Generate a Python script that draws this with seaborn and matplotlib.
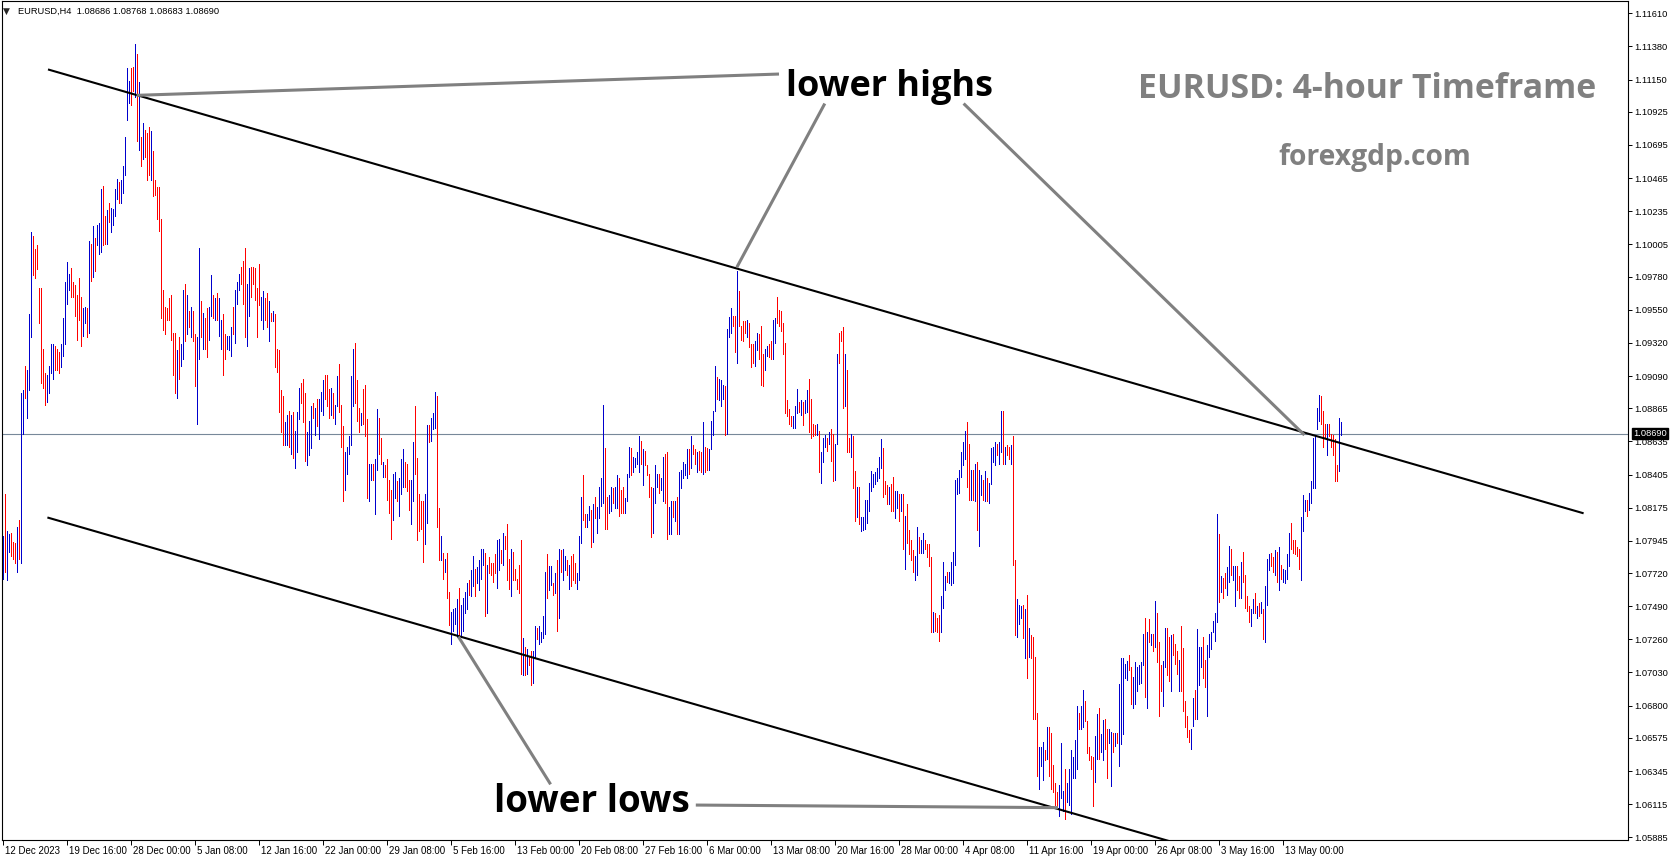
import numpy as np
import pandas as pd
import matplotlib
matplotlib.use("Agg")
import matplotlib.pyplot as plt
import matplotlib.transforms as mtransforms
import seaborn as sns

# ---------------- data (EURUSD H4 bars) ----------------
# 12 Dec 2023 - 12 Jan 2024
high_1 = [1.0798, 1.0827, 1.0801, 1.0799, 1.0800, 1.0794, 1.0793, 1.0804, 1.0809, 1.0897,
          1.0899, 1.0916, 1.0913, 1.0952, 1.1009, 1.1006, 1.0997, 1.1000, 1.0970, 1.0970,
          1.0928, 1.0911, 1.0910, 1.0916, 1.0931, 1.0931, 1.0930, 1.0928, 1.0926, 1.0931,
          1.0949, 1.0974, 1.0988, 1.0980, 1.0984, 1.0974, 1.0972, 1.0965, 1.0977, 1.0964,
          1.0956, 1.0957, 1.0956, 1.1003, 1.1001, 1.1013, 1.1005, 1.1014, 1.1015, 1.1039,
          1.1041, 1.1020, 1.1024, 1.1029, 1.1026, 1.1025, 1.1039, 1.1046, 1.1044, 1.1045,
          1.1055, 1.1075, 1.1123, 1.1114, 1.1123, 1.1124, 1.1140, 1.1133, 1.1113, 1.1075,
          1.1085, 1.1080, 1.1078, 1.1082, 1.1079, 1.1065, 1.1045, 1.1040, 1.1040, 1.1018,
          1.0969, 1.0957, 1.0956, 1.0963, 1.0965, 1.0939, 1.0939, 1.0927, 1.0936, 1.0931,
          1.0969, 1.0973, 1.0965, 1.0954, 1.0957, 1.0954, 1.0938, 1.0936, 1.0998, 1.0961,
          1.0953, 1.0949, 1.0956, 1.0957, 1.0979, 1.0965, 1.0963, 1.0967, 1.0963, 1.0948,
          1.0952, 1.0938, 1.0937, 1.0937, 1.0943, 1.0957, 1.0969, 1.0974, 1.0980, 1.0985,
          1.0989, 1.0998, 1.0973, 1.0984, 1.0985, 1.0985, 1.0984, 1.0970, 1.0987, 1.0964,
          1.0968, 1.0963, 1.0967, 1.0961, 1.0953, 1.0954, 1.0952, 1.0928, 1.0927, 1.0899,
          1.0895, 1.0877, 1.0882, 1.0885]
low_1 = [1.0768, 1.0773, 1.0767, 1.0787, 1.0784, 1.0782, 1.0779, 1.0773, 1.0782, 1.0779,
         1.0869, 1.0894, 1.0880, 1.0899, 1.0936, 1.0979, 1.0977, 1.0983, 1.0946, 1.0904,
         1.0901, 1.0889, 1.0891, 1.0897, 1.0911, 1.0907, 1.0913, 1.0913, 1.0911, 1.0915,
         1.0923, 1.0931, 1.0959, 1.0969, 1.0964, 1.0964, 1.0951, 1.0934, 1.0948, 1.0930,
         1.0937, 1.0946, 1.0936, 1.0939, 1.0975, 1.0978, 1.0982, 1.1000, 1.0994, 1.0995,
         1.1000, 1.1001, 1.1001, 1.1016, 1.1009, 1.1014, 1.1020, 1.1032, 1.1029, 1.1029,
         1.1036, 1.1049, 1.1087, 1.1099, 1.1097, 1.1107, 1.1103, 1.1072, 1.1066, 1.1055,
         1.1060, 1.1061, 1.1045, 1.1049, 1.1045, 1.1034, 1.1035, 1.1018, 1.1010, 1.0949,
         1.0941, 1.0938, 1.0948, 1.0948, 1.0934, 1.0910, 1.0897, 1.0894, 1.0907, 1.0916,
         1.0921, 1.0933, 1.0938, 1.0943, 1.0936, 1.0933, 1.0902, 1.0876, 1.0921, 1.0936,
         1.0928, 1.0928, 1.0922, 1.0934, 1.0951, 1.0949, 1.0948, 1.0948, 1.0937, 1.0928,
         1.0910, 1.0921, 1.0928, 1.0927, 1.0923, 1.0938, 1.0932, 1.0959, 1.0969, 1.0973,
         1.0959, 1.0936, 1.0930, 1.0951, 1.0964, 1.0973, 1.0962, 1.0936, 1.0958, 1.0948,
         1.0942, 1.0948, 1.0943, 1.0933, 1.0947, 1.0947, 1.0915, 1.0912, 1.0884, 1.0870,
         1.0861, 1.0861, 1.0861, 1.0860]
dir_1 = ("uduudddudu" "uduuuddddd" "dduuuudddu" "uuuudddddd" "uudududuuu"
         "dduduuuudu" "uuuuddudud" "uddduddddd" "dddddddudu" "udududduud"
         "udduududuu" "dduuuduuud" "dduudddddu" "uddududddd" "duud")

# 12 Jan - 6 Feb 2024
high_2 = [1.0882, 1.0884, 1.0871, 1.0884, 1.0901, 1.0904, 1.0907, 1.0897, 1.0870, 1.0878,
          1.0888, 1.0890, 1.0887, 1.0893, 1.0893, 1.0898, 1.0906, 1.0910, 1.0910, 1.0900,
          1.0901, 1.0897, 1.0889, 1.0909, 1.0917, 1.0889, 1.0874, 1.0856, 1.0860, 1.0867,
          1.0909, 1.0928, 1.0932, 1.0906, 1.0887, 1.0883, 1.0900, 1.0903, 1.0879, 1.0848,
          1.0848, 1.0848, 1.0851, 1.0886, 1.0880, 1.0866, 1.0849, 1.0847, 1.0851, 1.0837,
          1.0830, 1.0841, 1.0842, 1.0836, 1.0838, 1.0851, 1.0858, 1.0849, 1.0848, 1.0837,
          1.0837, 1.0863, 1.0888, 1.0852, 1.0827, 1.0822, 1.0822, 1.0827, 1.0875, 1.0875,
          1.0880, 1.0883, 1.0898, 1.0895, 1.0817, 1.0798, 1.0786, 1.0782, 1.0786, 1.0759,
          1.0745, 1.0747, 1.0748, 1.0754, 1.0762, 1.0750, 1.0755, 1.0759, 1.0765, 1.0767,
          1.0774, 1.0784, 1.0775, 1.0776, 1.0781, 1.0789, 1.0789, 1.0786, 1.0778, 1.0783,
          1.0779, 1.0779, 1.0785, 1.0795, 1.0796, 1.0788, 1.0800, 1.0798, 1.0806, 1.0782,
          1.0789, 1.0787, 1.0775, 1.0768, 1.0778, 1.0795, 1.0727, 1.0721, 1.0719, 1.0714,
          1.0718, 1.0718, 1.0735, 1.0734, 1.0735, 1.0731, 1.0742, 1.0773, 1.0785, 1.0777,
          1.0777, 1.0765, 1.0772, 1.0781, 1.0789, 1.0788, 1.0789, 1.0784, 1.0781, 1.0778,
          1.0784, 1.0785, 1.0779, 1.0772, 1.0798]
low_2 = [1.0855, 1.0852, 1.0845, 1.0856, 1.0879, 1.0890, 1.0877, 1.0850, 1.0847, 1.0854,
         1.0859, 1.0880, 1.0868, 1.0874, 1.0865, 1.0885, 1.0882, 1.0893, 1.0888, 1.0880,
         1.0882, 1.0880, 1.0876, 1.0888, 1.0884, 1.0860, 1.0822, 1.0830, 1.0841, 1.0855,
         1.0861, 1.0888, 1.0890, 1.0878, 1.0870, 1.0875, 1.0876, 1.0867, 1.0824, 1.0822,
         1.0837, 1.0837, 1.0813, 1.0844, 1.0855, 1.0848, 1.0839, 1.0839, 1.0823, 1.0814,
         1.0796, 1.0809, 1.0824, 1.0822, 1.0812, 1.0827, 1.0832, 1.0832, 1.0829, 1.0816,
         1.0806, 1.0822, 1.0841, 1.0795, 1.0801, 1.0803, 1.0780, 1.0792, 1.0807, 1.0863,
         1.0864, 1.0872, 1.0873, 1.0804, 1.0781, 1.0781, 1.0768, 1.0773, 1.0755, 1.0736,
         1.0723, 1.0732, 1.0737, 1.0728, 1.0727, 1.0729, 1.0732, 1.0744, 1.0747, 1.0757,
         1.0756, 1.0763, 1.0756, 1.0765, 1.0760, 1.0768, 1.0778, 1.0742, 1.0744, 1.0772,
         1.0771, 1.0766, 1.0772, 1.0762, 1.0774, 1.0779, 1.0778, 1.0789, 1.0767, 1.0761,
         1.0756, 1.0767, 1.0767, 1.0761, 1.0758, 1.0702, 1.0701, 1.0701, 1.0702, 1.0708,
         1.0694, 1.0696, 1.0713, 1.0726, 1.0723, 1.0724, 1.0727, 1.0730, 1.0755, 1.0760,
         1.0764, 1.0757, 1.0758, 1.0732, 1.0741, 1.0773, 1.0767, 1.0774, 1.0771, 1.0761,
         1.0763, 1.0767, 1.0765, 1.0761, 1.0767]
dir_2 = ("uduuuddduu" "ududuuuddd" "uduuddduuu" "uudddudddu" "uduudduddd"
         "duuduuuddd" "uuddddduud" "uuuddududd" "uuuuduuuud" "uuduuuudud"
         "ddduududdd" "udddddudud" "duuduuuudu" "udududuudu" "ddduu")

# 6 Feb - 14 Mar 2024
high_3 = [1.0825, 1.0840, 1.0813, 1.0813, 1.0819, 1.0816, 1.0820, 1.0825, 1.0818, 1.0832,
          1.0838, 1.0889, 1.0859, 1.0825, 1.0826, 1.0832, 1.0831, 1.0832, 1.0840, 1.0838,
          1.0830, 1.0832, 1.0824, 1.0841, 1.0860, 1.0859, 1.0853, 1.0852, 1.0856, 1.0867,
          1.0864, 1.0858, 1.0857, 1.0847, 1.0841, 1.0832, 1.0831, 1.0847, 1.0841, 1.0841,
          1.0838, 1.0853, 1.0855, 1.0856, 1.0818, 1.0822, 1.0822, 1.0822, 1.0825, 1.0842,
          1.0844, 1.0849, 1.0848, 1.0858, 1.0858, 1.0867, 1.0861, 1.0858, 1.0856, 1.0857,
          1.0856, 1.0877, 1.0860, 1.0859, 1.0858, 1.0878, 1.0885, 1.0916, 1.0908, 1.0907,
          1.0906, 1.0903, 1.0902, 1.0942, 1.0950, 1.0956, 1.0951, 1.0951, 1.0982, 1.0968,
          1.0944, 1.0947, 1.0947, 1.0948, 1.0946, 1.0931, 1.0931, 1.0933, 1.0939, 1.0938,
          1.0944, 1.0924, 1.0928, 1.0930, 1.0931, 1.0933, 1.0948, 1.0949, 1.0964, 1.0955,
          1.0954, 1.0946, 1.0932, 1.0892, 1.0886, 1.0881, 1.0881, 1.0888, 1.0900, 1.0891,
          1.0892, 1.0891, 1.0892, 1.0899, 1.0907, 1.0893, 1.0876, 1.0875, 1.0876, 1.0871,
          1.0856, 1.0866, 1.0868, 1.0866, 1.0870, 1.0872, 1.0869, 1.0862, 1.0924, 1.0939,
          1.0940, 1.0943, 1.0924, 1.0913, 1.0866, 1.0869, 1.0867, 1.0843, 1.0832, 1.0832]
low_3 = [1.0793, 1.0809, 1.0804, 1.0804, 1.0809, 1.0790, 1.0794, 1.0810, 1.0800, 1.0810,
         1.0819, 1.0821, 1.0803, 1.0803, 1.0814, 1.0815, 1.0821, 1.0817, 1.0817, 1.0812,
         1.0814, 1.0814, 1.0814, 1.0822, 1.0839, 1.0840, 1.0842, 1.0846, 1.0848, 1.0842,
         1.0848, 1.0833, 1.0847, 1.0840, 1.0825, 1.0797, 1.0800, 1.0821, 1.0832, 1.0828,
         1.0830, 1.0822, 1.0821, 1.0796, 1.0799, 1.0799, 1.0811, 1.0808, 1.0799, 1.0799,
         1.0831, 1.0838, 1.0840, 1.0838, 1.0841, 1.0845, 1.0855, 1.0848, 1.0842, 1.0844,
         1.0842, 1.0841, 1.0842, 1.0844, 1.0844, 1.0858, 1.0868, 1.0885, 1.0893, 1.0892,
         1.0888, 1.0893, 1.0868, 1.0869, 1.0936, 1.0939, 1.0944, 1.0926, 1.0918, 1.0944,
         1.0934, 1.0933, 1.0939, 1.0936, 1.0929, 1.0915, 1.0918, 1.0916, 1.0927, 1.0921,
         1.0903, 1.0902, 1.0913, 1.0923, 1.0922, 1.0921, 1.0921, 1.0932, 1.0946, 1.0944,
         1.0940, 1.0924, 1.0883, 1.0881, 1.0876, 1.0874, 1.0873, 1.0873, 1.0883, 1.0884,
         1.0882, 1.0875, 1.0883, 1.0884, 1.0870, 1.0866, 1.0867, 1.0868, 1.0868, 1.0842,
         1.0835, 1.0849, 1.0860, 1.0857, 1.0862, 1.0850, 1.0836, 1.0837, 1.0862, 1.0918,
         1.0933, 1.0887, 1.0888, 1.0856, 1.0856, 1.0853, 1.0831, 1.0808, 1.0811, 1.0806]
dir_3 = ("udduududuu" "uudduuduud" "dduuuduuuu" "dudddduuud" "uudduududu"
         "uuuududdud" "dudduuuudu" "uuduuuddud" "ddduddduud" "dduudduudd"
         "dddddduuud" "uduuddddud" "uuududduud" "ddudduddud")

# 14 Mar - 19 Apr 2024
high_4 = [1.0811, 1.0811, 1.0823, 1.0823, 1.0835, 1.0843, 1.0841, 1.0842, 1.0845, 1.0853,
          1.0865, 1.0859, 1.0836, 1.0833, 1.0832, 1.0834, 1.0839, 1.0829, 1.0829, 1.0827,
          1.0827, 1.0827, 1.0812, 1.0820, 1.0802, 1.0795, 1.0788, 1.0784, 1.0804, 1.0797,
          1.0795, 1.0800, 1.0795, 1.0792, 1.0792, 1.0783, 1.0745, 1.0744, 1.0741, 1.0743,
          1.0756, 1.0780, 1.0770, 1.0773, 1.0773, 1.0780, 1.0787, 1.0837, 1.0838, 1.0844,
          1.0856, 1.0863, 1.0871, 1.0877, 1.0862, 1.0844, 1.0844, 1.0848, 1.0849, 1.0844,
          1.0840, 1.0837, 1.0843, 1.0838, 1.0835, 1.0859, 1.0860, 1.0863, 1.0862, 1.0863,
          1.0885, 1.0885, 1.0860, 1.0861, 1.0860, 1.0861, 1.0867, 1.0781, 1.0754, 1.0750,
          1.0749, 1.0750, 1.0747, 1.0757, 1.0734, 1.0729, 1.0728, 1.0714, 1.0675, 1.0651,
          1.0651, 1.0655, 1.0649, 1.0665, 1.0665, 1.0661, 1.0639, 1.0626, 1.0620, 1.0625,
          1.0654, 1.0621, 1.0636, 1.0626, 1.0636, 1.0649, 1.0644, 1.0656, 1.0680, 1.0675,
          1.0680, 1.0691, 1.0683, 1.0669, 1.0651, 1.0645, 1.0644, 1.0659, 1.0674, 1.0678,
          1.0660, 1.0670, 1.0671, 1.0664, 1.0664, 1.0662, 1.0661, 1.0661, 1.0661, 1.0695,
          1.0713, 1.0713, 1.0709, 1.0711, 1.0715, 1.0707, 1.0700, 1.0710, 1.0707, 1.0708,
          1.0710, 1.0730, 1.0741, 1.0731, 1.0740]
low_4 = [1.0801, 1.0802, 1.0803, 1.0807, 1.0815, 1.0829, 1.0832, 1.0834, 1.0836, 1.0838,
         1.0845, 1.0825, 1.0827, 1.0820, 1.0820, 1.0815, 1.0815, 1.0810, 1.0817, 1.0808,
         1.0815, 1.0789, 1.0775, 1.0793, 1.0785, 1.0781, 1.0773, 1.0767, 1.0771, 1.0786,
         1.0786, 1.0786, 1.0789, 1.0783, 1.0777, 1.0731, 1.0731, 1.0732, 1.0731, 1.0725,
         1.0731, 1.0748, 1.0760, 1.0766, 1.0765, 1.0764, 1.0765, 1.0778, 1.0827, 1.0828,
         1.0839, 1.0847, 1.0851, 1.0832, 1.0823, 1.0823, 1.0823, 1.0822, 1.0802, 1.0791,
         1.0826, 1.0823, 1.0822, 1.0822, 1.0821, 1.0834, 1.0849, 1.0847, 1.0854, 1.0848,
         1.0856, 1.0848, 1.0848, 1.0854, 1.0851, 1.0848, 1.0778, 1.0729, 1.0728, 1.0737,
         1.0741, 1.0727, 1.0713, 1.0699, 1.0714, 1.0713, 1.0671, 1.0671, 1.0631, 1.0622,
         1.0638, 1.0628, 1.0642, 1.0643, 1.0631, 1.0622, 1.0620, 1.0611, 1.0609, 1.0603,
         1.0616, 1.0607, 1.0601, 1.0613, 1.0611, 1.0605, 1.0630, 1.0630, 1.0636, 1.0664,
         1.0664, 1.0665, 1.0669, 1.0647, 1.0642, 1.0636, 1.0610, 1.0627, 1.0643, 1.0643,
         1.0648, 1.0642, 1.0650, 1.0630, 1.0654, 1.0624, 1.0648, 1.0652, 1.0654, 1.0638,
         1.0653, 1.0660, 1.0699, 1.0698, 1.0705, 1.0681, 1.0678, 1.0681, 1.0690, 1.0695,
         1.0696, 1.0708, 1.0686, 1.0678, 1.0724]
dir_4 = ("uuuuuuuuuu" "udddudduud" "ududddduud" "uudddduddd" "uuuduuuuuu"
         "uuuddududu" "ududuuuudu" "ududdudduu" "udududdddu" "uududddddu"
         "uuduuuuuud" "uuddddduud" "uudduududu" "uuuudduuuu" "uudud")

# 19 Apr - 17 May 2024
high_5 = [1.0730, 1.0730, 1.0753, 1.0744, 1.0724, 1.0708, 1.0711, 1.0734, 1.0734, 1.0728,
          1.0729, 1.0730, 1.0723, 1.0718, 1.0712, 1.0735, 1.0720, 1.0683, 1.0673, 1.0663,
          1.0664, 1.0685, 1.0691, 1.0733, 1.0721, 1.0721, 1.0728, 1.0712, 1.0722, 1.0730,
          1.0731, 1.0739, 1.0744, 1.0813, 1.0799, 1.0770, 1.0769, 1.0772, 1.0776, 1.0791,
          1.0789, 1.0777, 1.0777, 1.0777, 1.0770, 1.0780, 1.0787, 1.0771, 1.0756, 1.0749,
          1.0747, 1.0754, 1.0758, 1.0749, 1.0751, 1.0752, 1.0747, 1.0763, 1.0782, 1.0785,
          1.0786, 1.0783, 1.0788, 1.0787, 1.0790, 1.0778, 1.0775, 1.0774, 1.0785, 1.0800,
          1.0807, 1.0795, 1.0795, 1.0790, 1.0789, 1.0811, 1.0826, 1.0823, 1.0823, 1.0828,
          1.0836, 1.0866, 1.0868, 1.0887, 1.0896, 1.0895, 1.0885, 1.0876, 1.0876, 1.0876,
          1.0869, 1.0868, 1.0865, 1.0847, 1.0880, 1.08768]
low_5 = [1.0722, 1.0718, 1.0721, 1.0710, 1.0673, 1.0690, 1.0680, 1.0707, 1.0701, 1.0697,
         1.0690, 1.0715, 1.0709, 1.0702, 1.0690, 1.0690, 1.0676, 1.0665, 1.0658, 1.0655,
         1.0650, 1.0666, 1.0671, 1.0671, 1.0694, 1.0707, 1.0699, 1.0693, 1.0673, 1.0714,
         1.0719, 1.0731, 1.0725, 1.0738, 1.0752, 1.0759, 1.0755, 1.0762, 1.0757, 1.0766,
         1.0771, 1.0767, 1.0749, 1.0760, 1.0755, 1.0755, 1.0766, 1.0748, 1.0746, 1.0738,
         1.0735, 1.0744, 1.0744, 1.0741, 1.0742, 1.0744, 1.0726, 1.0724, 1.0750, 1.0774,
         1.0777, 1.0773, 1.0771, 1.0766, 1.0760, 1.0768, 1.0766, 1.0765, 1.0768, 1.0777,
         1.0789, 1.0786, 1.0785, 1.0784, 1.0775, 1.0767, 1.0801, 1.0815, 1.0812, 1.0816,
         1.0821, 1.0831, 1.0831, 1.0872, 1.0878, 1.0876, 1.0860, 1.0866, 1.0854, 1.0867,
         1.0860, 1.0854, 1.0836, 1.0836, 1.0843, 1.08683]
dir_5 = ("ududdduudd" "uddduddddd" "uuduuudduu" "uuuududduu" "duuddudddd"
         "uudududuuu" "ddududuuuu" "ddddduuudu" "uuuuudddud" "dddduu")

# last bar OHLC shown in the header, and last price line
last_open, last_high, last_low, last_close = 1.08686, 1.08768, 1.08683, 1.08690

# time axis labels (every 32 H4 bars)
x_tick_bars = [0, 32, 64, 96, 128, 160, 192, 224, 256, 288, 320,
               352, 384, 416, 448, 480, 512, 544, 576, 608, 640]
x_tick_labels = ["12 Dec 2023", "19 Dec 16:00", "28 Dec 00:00", "5 Jan 08:00",
                 "12 Jan 16:00", "22 Jan 00:00", "29 Jan 08:00", "5 Feb 16:00",
                 "13 Feb 00:00", "20 Feb 08:00", "27 Feb 16:00", "6 Mar 00:00",
                 "13 Mar 08:00", "20 Mar 16:00", "28 Mar 00:00", "4 Apr 08:00",
                 "11 Apr 16:00", "19 Apr 00:00", "26 Apr 08:00", "3 May 16:00",
                 "13 May 00:00"]
y_ticks = [1.11610, 1.11380, 1.11150, 1.10925, 1.10695, 1.10465, 1.10235, 1.10005,
           1.09780, 1.09550, 1.09320, 1.09090, 1.08865, 1.08635, 1.08405, 1.08175,
           1.07945, 1.07720, 1.07490, 1.07260, 1.07030, 1.06800, 1.06575, 1.06345,
           1.06115, 1.05885]

# drawn trend lines (bar index, price)
channel_top = [(22.5, 1.11220), (790.3, 1.08136)]
channel_bottom = [(22.2, 1.08107), (585.0, 1.05851)]
pointer_lines = [
    [(66.8, 1.11040), (388.0, 1.11188)],
    [(366.9, 1.09845), (410.9, 1.10983)],
    [(480.3, 1.10983), (650.7, 1.08680)],
    [(227.7, 1.07279), (273.8, 1.06253)],
    [(346.4, 1.06109), (527.5, 1.06091)],
]

# ---------------- build frame ----------------
highs = high_1 + high_2 + high_3 + high_4 + high_5
lows = low_1 + low_2 + low_3 + low_4 + low_5
dirs = dir_1 + dir_2 + dir_3 + dir_4 + dir_5
n = min(len(highs), len(lows), len(dirs))
bar_idx = np.arange(n)
df = pd.DataFrame({
    "bar": np.repeat(bar_idx, 2),
    "price": np.column_stack([lows[:n], highs[:n]]).ravel(),
    "dir": np.repeat(list(dirs[:n]), 2),
})

# ---------------- figure ----------------
sns.set_theme(style="white")
plt.rcParams["font.family"] = ["Liberation Sans", "DejaVu Sans"]

W, H = 1673, 861
fig = plt.figure(figsize=(W / 100, H / 100), dpi=100)
fig.patch.set_facecolor("white")
ax_l, ax_r, ax_t, ax_b = 2, 1628, 1, 840
ax = fig.add_axes([ax_l / W, (H - ax_b) / H, (ax_r - ax_l) / W, (ax_b - ax_t) / H])
ax.set_facecolor("white")

sns.lineplot(data=df, x="bar", y="price", hue="dir", units="bar", estimator=None,
             palette={"u": "#0000CD", "d": "#FF0000"}, legend=False, sort=False,
             linewidth=0.5, antialiased=False, ax=ax)

# price scale mapping from the reference
px_per_unit = 14393.0
def price_at(py):
    return 1.11610 - (py - 13.3) / px_per_unit

ax.set_xlim(-0.5, (ax_r - ax_l) / 2 - 0.5)
ax.set_ylim(price_at(ax_b), price_at(ax_t))

# last-price horizontal line
ax.axhline(last_close, color="#778899", lw=0.8, zorder=1)

# channel lines
for seg in (channel_top, channel_bottom):
    xs, ys = zip(*seg)
    ax.plot(xs, ys, color="black", lw=1.5, solid_capstyle="butt", zorder=4)
for seg in pointer_lines:
    xs, ys = zip(*seg)
    ax.plot(xs, ys, color="#808080", lw=2.2, solid_capstyle="butt", zorder=4)

# axes styling
for s in ax.spines.values():
    s.set_color("black")
    s.set_linewidth(0.8)
ax.set_xlabel("")
ax.set_ylabel("")
ax.yaxis.tick_right()
ax.set_yticks(y_ticks)
ax.set_yticklabels([f"{v:.5f}" for v in y_ticks])
ax.tick_params(axis="y", which="major", direction="out", length=3, width=0.7,
               pad=1.5, labelsize=6.7, colors="black", right=True, left=False)
ax.set_xticks(x_tick_bars)
ax.set_xticklabels(x_tick_labels)
ax.tick_params(axis="x", which="major", direction="out", length=3.5, width=0.7,
               pad=0.5, labelsize=7, colors="black", bottom=True)
offset = mtransforms.ScaledTranslation(2 / 100, 0, fig.dpi_scale_trans)
for lab in ax.get_xticklabels():
    lab.set_horizontalalignment("left")
    lab.set_transform(lab.get_transform() + offset)
ax.grid(False)

# last price box on the scale
trans = mtransforms.blended_transform_factory(ax.transAxes, ax.transData)
ax.text(1.0 + 5.5 / (ax_r - ax_l), last_close, f"{last_close:.5f}", transform=trans,
        color="white", fontsize=6.7, va="center", ha="left", clip_on=False, zorder=10,
        bbox=dict(boxstyle="square,pad=0.12", fc="black", ec="black"))

def fx(px):
    return px / W
def fy(py):
    return 1 - py / H

# header
fig.text(fx(6), fy(11), "\u25BC", fontsize=6.5, ha="center", va="center",
         family=["DejaVu Sans"])
fig.text(fx(18), fy(11),
         f"EURUSD,H4  {last_open:.5f} {last_high:.5f} {last_low:.5f} {last_close:.5f}",
         fontsize=6.7, ha="left", va="center", color="black")

# annotations
fig.text(fx(786), fy(96), "lower highs", fontsize=25.9, fontweight="bold",
         family=["Open Sans", "DejaVu Sans"], ha="left", va="baseline", color="black")
fig.text(fx(494), fy(812), "lower lows", fontsize=26.5, fontweight="bold",
         family=["Open Sans", "DejaVu Sans"], ha="left", va="baseline", color="black")
fig.text(fx(1138), fy(98), "EURUSD: 4-hour Timeframe", fontsize=24.4, fontweight="bold",
         family=["Open Sans", "DejaVu Sans"], ha="left", va="baseline", color="#808080")
fig.text(fx(1278), fy(165), "forexgdp.com", fontsize=20.3, fontweight="bold",
         family=["Open Sans", "DejaVu Sans"], ha="left", va="baseline", color="#808080")

fig.savefig("out.png", dpi=100, facecolor="white")
